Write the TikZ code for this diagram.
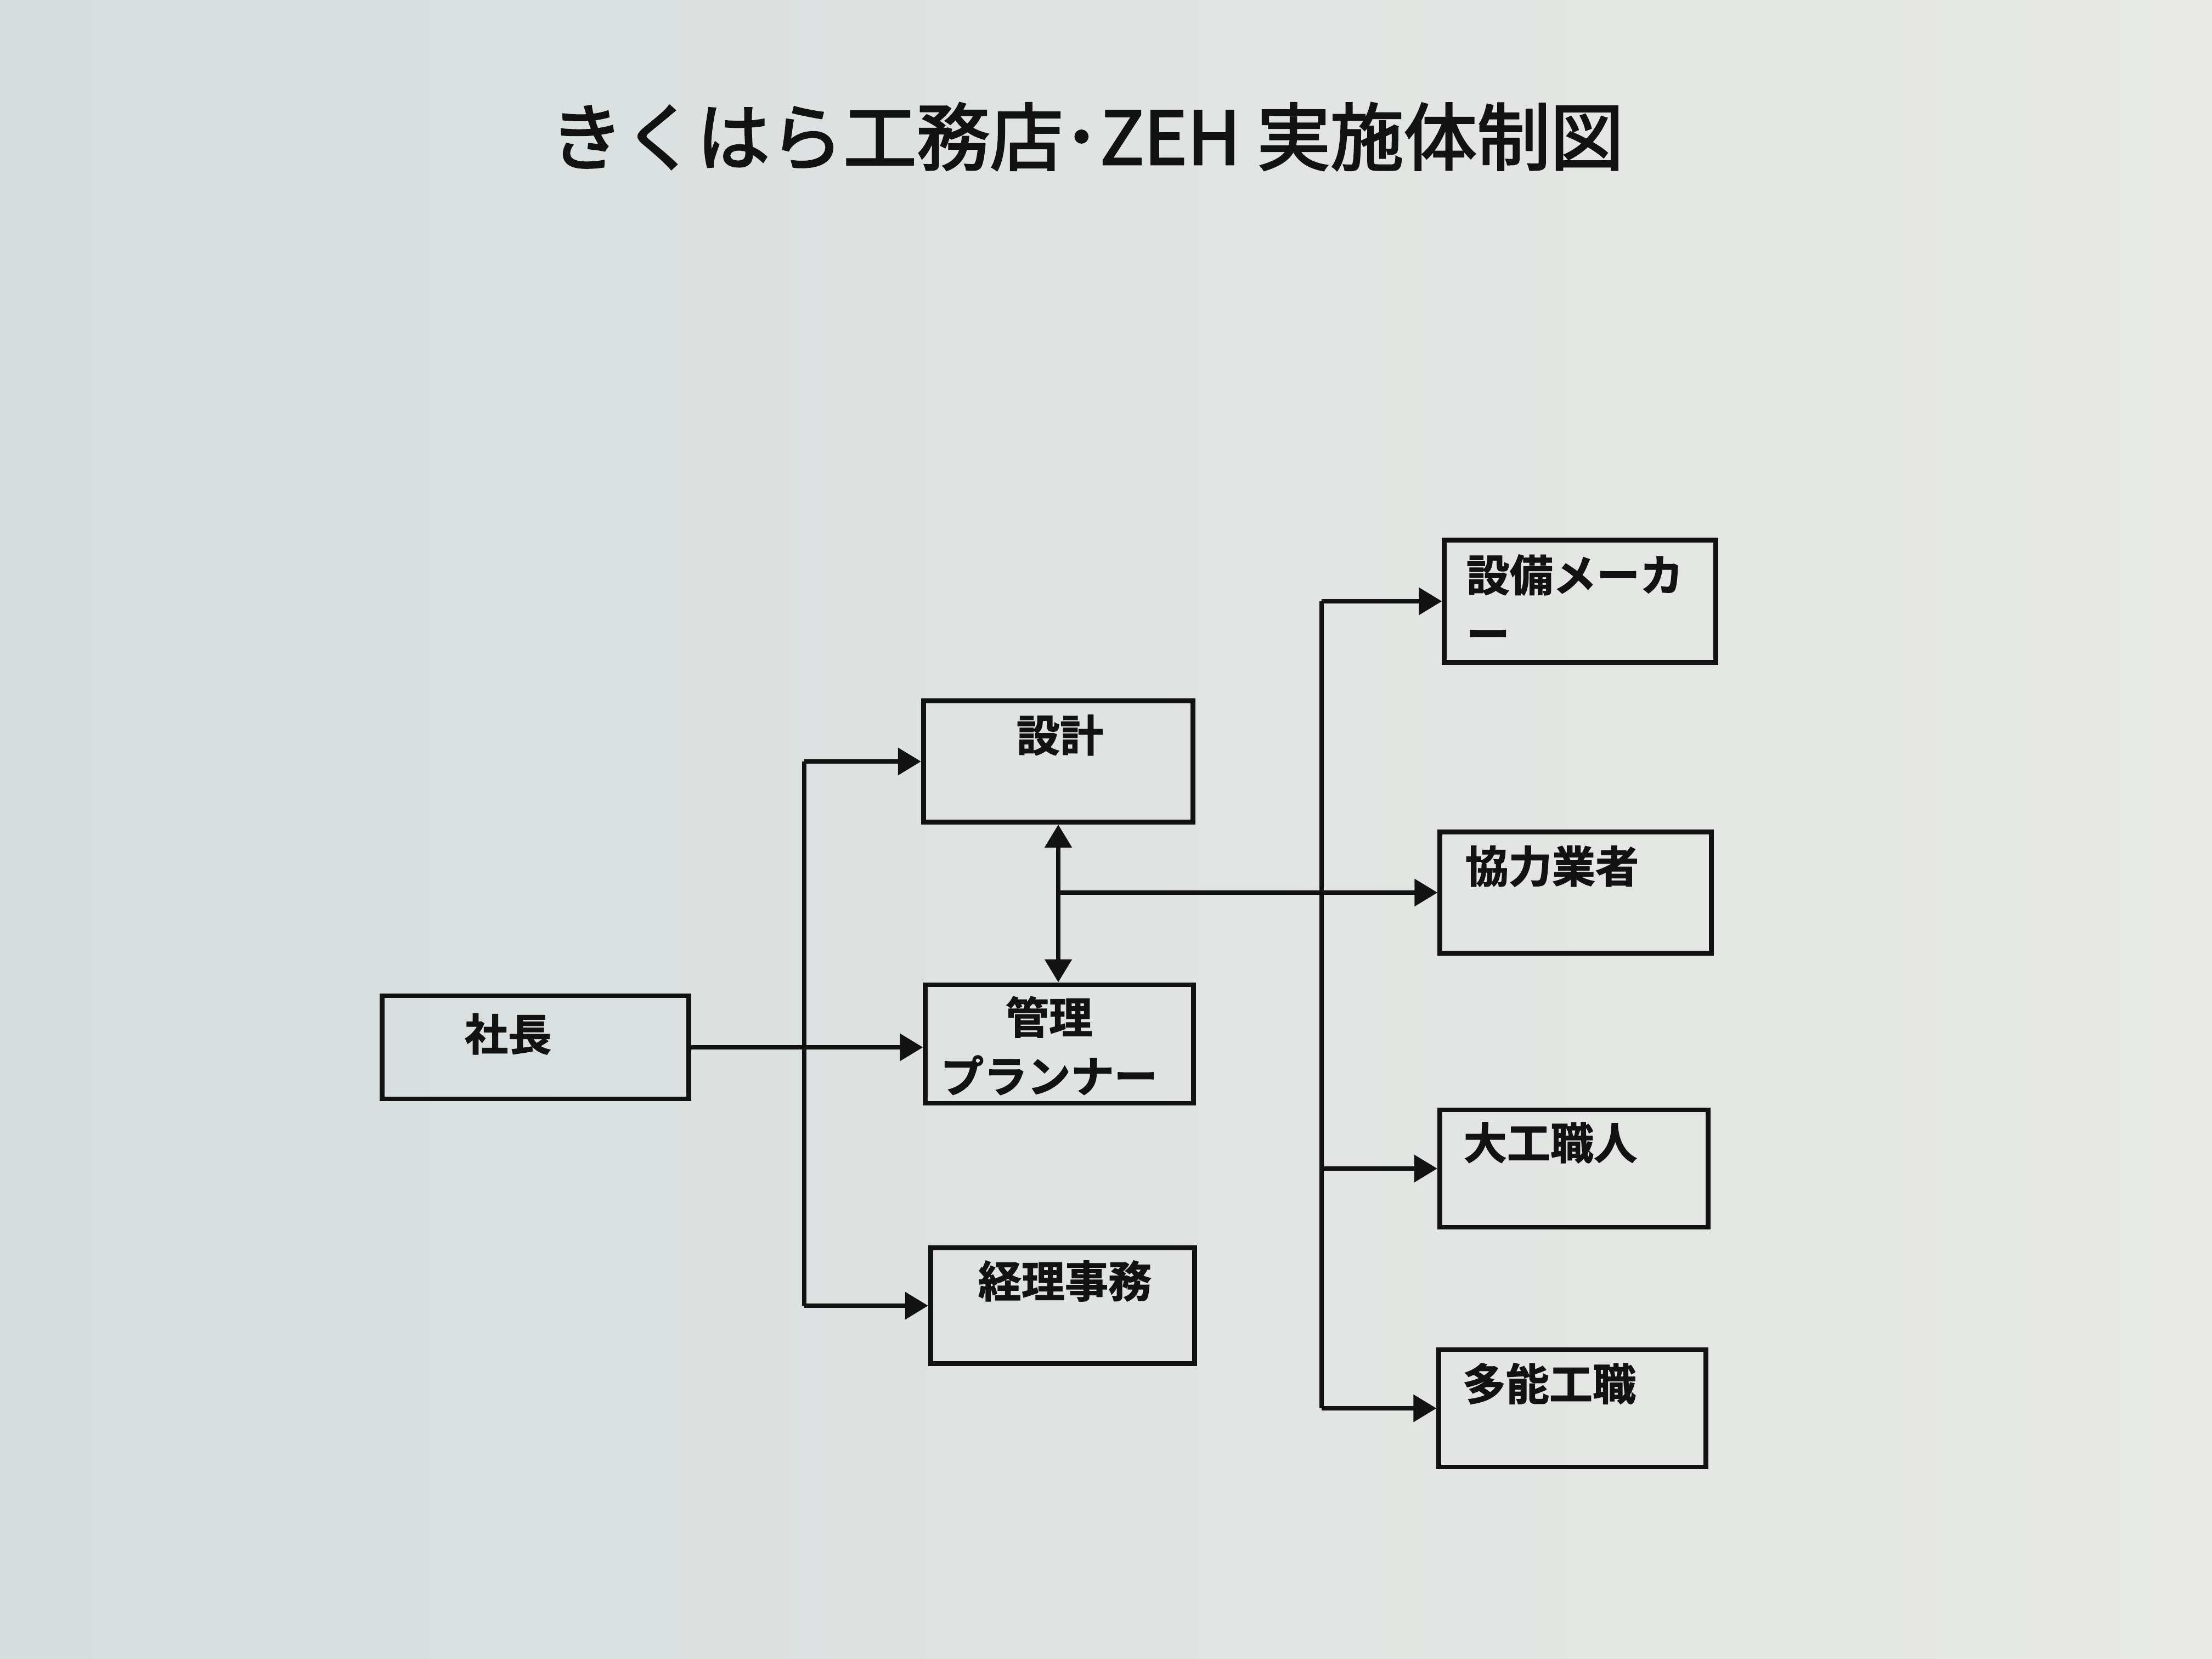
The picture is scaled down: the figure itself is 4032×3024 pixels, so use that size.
\documentclass[tikz,border=0pt]{standalone}
\usepackage{fontspec}
\usetikzlibrary{arrows.meta,calc}
\newfontfamily\jpbold[FakeBold=1.5]{Noto Sans CJK JP Bold}
\newfontfamily\jptitle[FakeBold=2.5]{Noto Sans CJK JP}
\definecolor{bgL}{RGB}{214,221,222}
\definecolor{bgR}{RGB}{232,233,229}
\definecolor{ink}{RGB}{18,18,18}
\tikzset{
  box/.style={draw=ink, line width=2.5pt, inner sep=0pt},
  lbl/.style={inner sep=0pt, text=ink, font=\jpbold\fontsize{22.5}{30.5}\selectfont},
  arr/.style={draw=ink, line width=2.5pt, -{Triangle[length=0.42cm,width=0.48cm]}},
  darr/.style={draw=ink, line width=2.5pt, {Triangle[length=0.42cm,width=0.48cm]}-{Triangle[length=0.42cm,width=0.48cm]}},
  bus/.style={draw=ink, line width=2.5pt},
}
\begin{document}
\begin{tikzpicture}[x=0.01cm,y=-0.01cm]
\useasboundingbox (0,0) rectangle (4032,3024);
\shade[left color=bgL, right color=bgR] (0,0) rectangle (4032,3024);
% title
\node[inner sep=0pt, text=ink, font=\jptitle\fontsize{38}{44}\selectfont] (title) at (1981,249) {きくはら工務店･ZEH 実施体制図};
% boxes
\node[box, minimum width=5.58cm, minimum height=1.88cm] (shacho) at (976,1909) {};
\node[box, minimum width=4.91cm, minimum height=2.21cm] (sekkei) at (1929,1388) {};
\node[box, minimum width=4.88cm, minimum height=2.16cm] (kanri) at (1931,1903) {};
\node[box, minimum width=4.81cm, minimum height=2.11cm] (keiri) at (1937,2380) {};
\node[box, minimum width=4.94cm, minimum height=2.23cm] (setsubi) at (2880,1096) {};
\node[box, minimum width=4.94cm, minimum height=2.21cm] (kyoryoku) at (2872,1627) {};
\node[box, minimum width=4.89cm, minimum height=2.14cm] (taiku) at (2869,2130) {};
\node[box, minimum width=4.86cm, minimum height=2.14cm] (tano) at (2866,2567) {};
% labels
\node[lbl] (t-shacho) at (926,1885) {社長};
\node[lbl] (t-sekkei) at (1932,1340) {設計};
\node[lbl, align=center] (t-kanri) at (1912,1906) {管理\\プランナー};
\node[lbl] (t-keiri) at (1941,2335) {経理事務};
\node[lbl, align=left, anchor=north west] (t-setsubi) at (2672,1010) {設備メーカ\\ー};
\node[lbl, anchor=west] (t-kyoryoku) at (2670,1579) {協力業者};
\node[lbl, anchor=west] (t-taiku) at (2667,2083) {大工職人};
\node[lbl, anchor=west] (t-tano) at (2665,2522) {多能工職};
% connectors
\coordinate (b1) at (1466,0);
\coordinate (b2) at (2409,0);
\draw[arr] (shacho.east) -- (shacho.east -| kanri.west);
\draw[bus] (b1 |- sekkei.west) -- (b1 |- keiri.west);
\draw[arr] (b1 |- sekkei.west) -- (sekkei.west);
\draw[arr] (b1 |- keiri.west) -- (keiri.west);
\draw[darr] (sekkei.south) -- (sekkei.south |- kanri.north);
\draw[arr] (sekkei.south |- kyoryoku.west) -- (kyoryoku.west);
\draw[bus] (b2 |- setsubi.west) -- (b2 |- tano.west);
\draw[arr] (b2 |- setsubi.west) -- (setsubi.west);
\draw[arr] (b2 |- taiku.west) -- (taiku.west);
\draw[arr] (b2 |- tano.west) -- (tano.west);
\end{tikzpicture}
\end{document}
